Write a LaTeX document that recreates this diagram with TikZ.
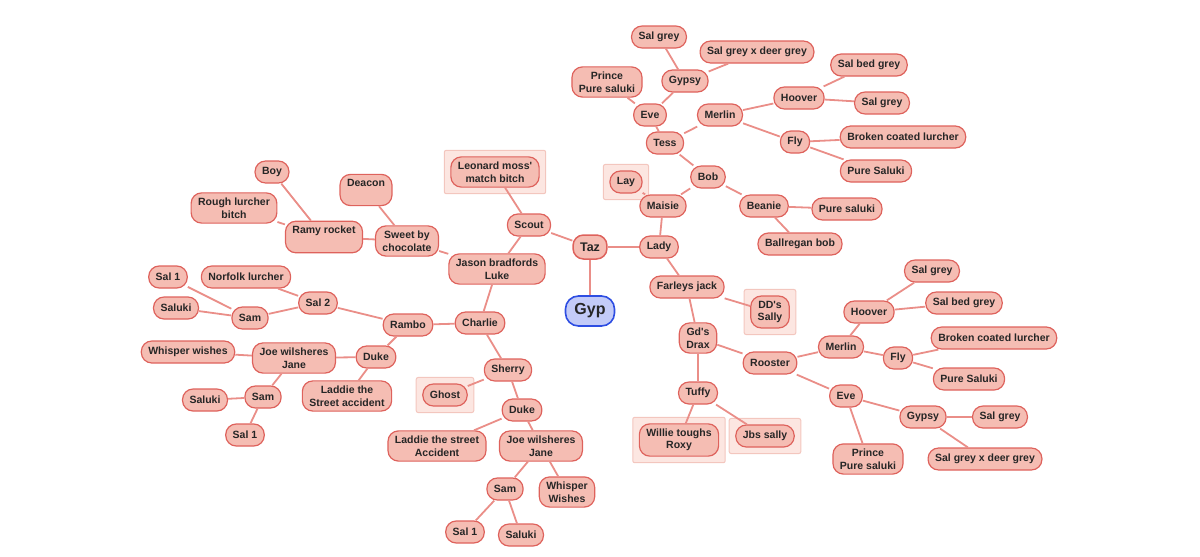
\documentclass[tikz,border=0pt]{standalone}
\usepackage{fontspec}
\setmainfont{Liberation Sans}
\usetikzlibrary{positioning,fit,backgrounds}

\definecolor{nodefill}{HTML}{F5BDB3}
\definecolor{nodeline}{HTML}{DE625C}
\definecolor{linkline}{HTML}{EA8E88}
\definecolor{boxfill}{HTML}{FCE6E1}
\definecolor{boxline}{HTML}{F3C6BE}
\definecolor{gypfill}{HTML}{C3CBF8}
\definecolor{gypline}{HTML}{2E4EE2}

\begin{document}
\begin{tikzpicture}[on grid,dog/.style={draw=nodeline,fill=nodefill,line width=1.2pt,rounded corners=10.5pt,align=center,inner xsep=7pt,inner ysep=5pt,minimum height=22pt,text=black!85,font=\bfseries\fontsize{10.5}{12.5}\selectfont},sire/.style={dog,line width=1.5pt,minimum height=24pt,font=\bfseries\fontsize{12.5}{14}\selectfont},root/.style={draw=gypline,fill=gypfill,line width=1.6pt,rounded corners=13pt,inner xsep=8pt,minimum height=30pt,minimum width=49pt,text=black!85,font=\bfseries\fontsize{16}{18}\selectfont},pick/.style={draw=boxline,fill=boxfill,line width=1pt,rounded corners=2pt,inner sep=6pt},link/.style={draw=linkline,line width=1.8pt}]
	\useasboundingbox (0,0) rectangle (1200pt,-557pt);

	\node[root] (0) at (590pt,-311pt) {Gyp};
	\node[sire,node distance=64pt,above=of 0]					(1)	{Taz};
	\node[dog,node distance=22pt,above=of 1,xshift=-61pt]		(2)	{Scout};
	\node[dog,node distance=69pt,right=of 1]					(3)	{Lady};

	\node[dog,node distance=53pt,above=of 2,xshift=-34pt]		(4)	{Leonard moss\textquotesingle\\match bitch};
	\node[dog,node distance=44pt,below=of 2,xshift=-32pt]		(5)	{Jason bradfords\\Luke};
	\node[dog,node distance=28pt,above=of 5,xshift=-90pt]		(6)	{Sweet by\\chocolate};
	\node[dog,node distance=54pt,below=of 5,xshift=-17pt]		(7)	{Charlie};
	\node[dog,text depth=14pt,node distance=51pt,above=of 6,xshift=-41pt]	(8)	{Deacon};
	\node[dog,text depth=14pt,node distance=83pt,left=of 6,yshift=4pt]		(9)	{Ramy rocket};
	\node[dog,node distance=65pt,above=of 9,xshift=-52pt]		(10){Boy};
	\node[dog,node distance=29pt,above=of 9,xshift=-90pt]		(11){Rough lurcher\\bitch};
	\node[dog,node distance=72pt,left=of 7,yshift=-2pt]		(12){Rambo};
	\node[dog,node distance=47pt,below=of 7,xshift=28pt]		(13){Sherry};
	\node[dog,node distance=22pt,above=of 12,xshift=-90pt]		(14){Sal 2};
	\node[dog,node distance=32pt,below=of 12,xshift=-32pt]		(15){Duke};
	\node[dog,node distance=26pt,above=of 14,xshift=-72pt]		(16){Norfolk lurcher};
	\node[dog,node distance=15pt,below=of 14,xshift=-68pt]		(17){Sam};
	\node[dog,node distance=41pt,above=of 17,xshift=-82pt]		(18){Sal 1};
	\node[dog,node distance=10pt,above=of 17,xshift=-74pt]		(19){Saluki};
	\node[dog,node distance=82pt,left=of 15,yshift=-1pt]		(20){Joe wilsheres\\Jane};
	\node[dog,node distance=39pt,below=of 15,xshift=-29pt]		(21){Laddie the\\Street accident};
	\node[dog,node distance=106pt,left=of 20,yshift=6pt]		(22){Whisper wishes};
	\node[dog,node distance=39pt,below=of 20,xshift=-31pt]		(23){Sam};
	\node[dog,node distance=58pt,left=of 23,yshift=-3pt]		(24){Saluki};
	\node[dog,node distance=38pt,below=of 23,xshift=-18pt]		(25){Sal 1};
	\node[dog,node distance=25pt,below=of 13,xshift=-63pt]		(26){Ghost};
	\node[dog,node distance=40pt,below=of 13,xshift=14pt]		(27){Duke};
	\node[dog,node distance=36pt,below=of 27,xshift=-85pt]		(28){Laddie the street\\Accident};
	\node[dog,node distance=36pt,below=of 27,xshift=19pt]		(29){Joe wilsheres\\Jane};
	\node[dog,node distance=43pt,below=of 29,xshift=-36pt]		(30){Sam};
	\node[dog,node distance=46pt,below=of 29,xshift=26pt]		(31){Whisper\\Wishes};
	\node[dog,node distance=43pt,below=of 30,xshift=-40pt]		(32){Sal 1};
	\node[dog,node distance=46pt,below=of 30,xshift=16pt]		(33){Saluki};

	\node[dog,node distance=41pt,above=of 3,xshift=4pt]		(40){Maisie};
	\node[dog,node distance=40pt,below=of 3,xshift=28pt]		(41){Farleys jack};
	\node[dog,node distance=24pt,above=of 40,xshift=-37pt]		(42){Lay};
	\node[dog,node distance=29pt,above=of 40,xshift=45pt]		(43){Bob};
	\node[dog,node distance=34pt,above=of 43,xshift=-43pt]		(44){Tess};
	\node[dog,node distance=29pt,below=of 43,xshift=56pt]		(45){Beanie};
	\node[dog,node distance=83pt,right=of 45,yshift=-3pt]		(46){Pure saluki};
	\node[dog,node distance=38pt,below=of 45,xshift=36pt]		(47){Ballregan bob};
	\node[dog,node distance=28pt,above=of 44,xshift=-15pt]		(48){Eve};
	\node[dog,node distance=28pt,above=of 44,xshift=55pt]		(49){Merlin};
	\node[dog,node distance=33pt,above=of 48,xshift=-43pt]		(50){Prince\\Pure saluki};
	\node[dog,node distance=34pt,above=of 48,xshift=35pt]		(51){Gypsy};
	\node[dog,node distance=44pt,above=of 51,xshift=-26pt]		(52){Sal grey};
	\node[dog,node distance=29pt,above=of 51,xshift=72pt]		(53){Sal grey x deer grey};
	\node[dog,node distance=17pt,above=of 49,xshift=79pt]		(54){Hoover};
	\node[dog,node distance=27pt,below=of 49,xshift=75pt]		(55){Fly};
	\node[dog,node distance=33pt,above=of 54,xshift=70pt]		(56){Sal bed grey};
	\node[dog,node distance=83pt,right=of 54,yshift=-5pt]		(57){Sal grey};
	\node[dog,node distance=108pt,right=of 55,yshift=5pt]		(58){Broken coated lurcher};
	\node[dog,node distance=29pt,below=of 55,xshift=81pt]		(59){Pure Saluki};

	\node[dog,node distance=25pt,below=of 41,xshift=83pt]		(60){DD\textquotesingle s\\Sally};
	\node[dog,node distance=51pt,below=of 41,xshift=11pt]		(61){Gd\textquotesingle s\\Drax};
	\node[dog,node distance=72pt,right=of 61,yshift=-25pt]		(62){Rooster};
	\node[dog,node distance=55pt,below=of 61]					(63){Tuffy};
	\node[dog,node distance=47pt,below=of 63,xshift=-19pt]		(64){Willie toughs\\Roxy};
	\node[dog,node distance=43pt,below=of 63,xshift=67pt]		(65){Jbs sally};
	\node[dog,node distance=71pt,right=of 62,yshift=16pt]		(66){Merlin};
	\node[dog,node distance=76pt,right=of 62,yshift=-33pt]		(67){Eve};
	\node[dog,node distance=35pt,above=of 66,xshift=28pt]		(68){Hoover};
	\node[dog,node distance=57pt,right=of 66,yshift=-11pt]		(69){Fly};
	\node[dog,node distance=41pt,above=of 68,xshift=63pt]		(70){Sal grey};
	\node[dog,node distance=95pt,right=of 68,yshift=9pt]		(71){Sal bed grey};
	\node[dog,node distance=96pt,right=of 69,yshift=20pt]		(72){Broken coated lurcher};
	\node[dog,node distance=71pt,right=of 69,yshift=-21pt]		(73){Pure Saluki};
	\node[dog,node distance=77pt,right=of 67,yshift=-21pt]		(74){Gypsy};
	\node[dog,node distance=63pt,below=of 67,xshift=22pt]		(75){Prince\\Pure saluki};
	\node[dog,node distance=77pt,right=of 74]					(76){Sal grey};
	\node[dog,node distance=62pt,right=of 74,yshift=-42pt]		(77){Sal grey x deer grey};

	% boxes behind the picked dogs
	\begin{scope}[on background layer]
		\node[pick,fit=(4)]		(p4)	{};
		\node[pick,fit=(26)]	(p26)	{};
		\node[pick,fit=(42)]	(p42)	{};
		\node[pick,fit=(60)]	(p60)	{};
		\node[pick,fit=(64)]	(p64)	{};
		\node[pick,fit=(65)]	(p65)	{};
	\end{scope}

	\draw[link] (0) -- (1);
	\draw[link] (1) -- (2);
	\draw[link] (1) -- (3);

	\draw[link] (2) -- (4);
	\draw[link] (2) -- (5);
	\draw[link] (5) -- (6);
	\draw[link] (5) -- (7);
	\draw[link] (6) -- (8);
	\draw[link] (6) -- (9);
	\draw[link] (9) -- (10);
	\draw[link] (9) -- (11);
	\draw[link] (7) -- (12);
	\draw[link] (7) -- (13);
	\draw[link] (12) -- (14);
	\draw[link] (12) -- (15);
	\draw[link] (14) -- (16);
	\draw[link] (14) -- (17);
	\draw[link] (17) -- (18);
	\draw[link] (17) -- (19);
	\draw[link] (15) -- (20);
	\draw[link] (15) -- (21);
	\draw[link] (20) -- (22);
	\draw[link] (20) -- (23);
	\draw[link] (23) -- (24);
	\draw[link] (23) -- (25);
	\draw[link] (13) -- (26);
	\draw[link] (13) -- (27);
	\draw[link] (27) -- (28);
	\draw[link] (27) -- (29);
	\draw[link] (29) -- (30);
	\draw[link] (29) -- (31);
	\draw[link] (30) -- (32);
	\draw[link] (30) -- (33);

	\draw[link] (3) -- (40);
	\draw[link] (3) -- (41);
	\draw[link] (40) -- (42);
	\draw[link] (40) -- (43);
	\draw[link] (43) -- (44);
	\draw[link] (43) -- (45);
	\draw[link] (45) -- (46);
	\draw[link] (45) -- (47);
	\draw[link] (44) -- (48);
	\draw[link] (44) -- (49);
	\draw[link] (48) -- (50);
	\draw[link] (48) -- (51);
	\draw[link] (51) -- (52);
	\draw[link] (51) -- (53);
	\draw[link] (49) -- (54);
	\draw[link] (49) -- (55);
	\draw[link] (54) -- (56);
	\draw[link] (54) -- (57);
	\draw[link] (55) -- (58);
	\draw[link] (55) -- (59);

	\draw[link] (41) -- (60);
	\draw[link] (41) -- (61);
	\draw[link] (61) -- (62);
	\draw[link] (61) -- (63);
	\draw[link] (63) -- (64);
	\draw[link] (63) -- (65);
	\draw[link] (62) -- (66);
	\draw[link] (62) -- (67);
	\draw[link] (66) -- (68);
	\draw[link] (66) -- (69);
	\draw[link] (68) -- (70);
	\draw[link] (68) -- (71);
	\draw[link] (69) -- (72);
	\draw[link] (69) -- (73);
	\draw[link] (67) -- (74);
	\draw[link] (67) -- (75);
	\draw[link] (74) -- (76);
	\draw[link] (74) -- (77);
\end{tikzpicture}
\end{document}
